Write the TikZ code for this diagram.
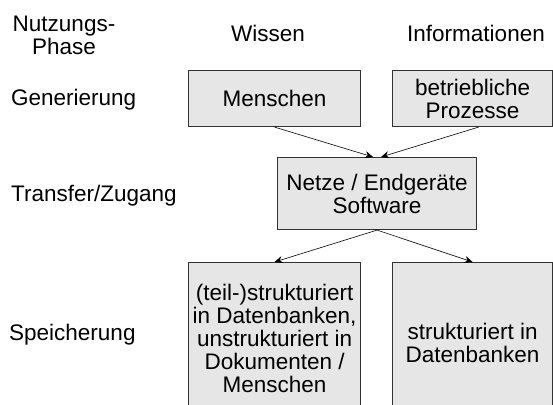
\documentclass[tikz,border=0pt]{standalone}
\usepackage{fontspec}
\setmainfont{Liberation Sans}
\usetikzlibrary{calc,arrows.meta}
\definecolor{boxfill}{RGB}{230,230,230}
\definecolor{boxline}{RGB}{50,50,50}
\begin{document}
\begin{tikzpicture}[x=1pt,y=-1pt,
  every node/.style={font=\fontsize{22.5}{23}\selectfont, inner sep=0pt, align=center},
  box/.style={draw=boxline, line width=1.1pt, fill=boxfill, anchor=north west},
  lbl/.style={anchor=west},
  flow/.style={line width=0.6pt, -{Stealth[length=8pt,width=7pt]}}]
\useasboundingbox (0,0) rectangle (553,404);
\clip (0,0) rectangle (553,404);

% column and row headings
\node (hdr) at (64,35) {Nutzungs-\\Phase};
\node (wis) at (268,33) {Wissen};
\node (inf) at (476,33) {Informationen};
\node[lbl] (gen) at (11,100) {Generierung};
\node[lbl] (tra) at (11,196) {Transfer/Zugang};
\node[lbl] (spe) at (9,335) {Speicherung};

% boxes (the storage boxes run on past the lower edge)
\node[box, minimum width=172pt, minimum height=56pt] (men) at (188,70) {Menschen};
\node[box, minimum width=160pt, minimum height=56pt] (bp) at (392,70) {betriebliche\\Prozesse};
\node[box, minimum width=199pt, minimum height=72pt] (net) at (277,157) {Netze / Endgeräte\\Software};
\node[box, minimum width=172pt, minimum height=152pt] (ls) at (188,262) {(teil-)strukturiert\\in Datenbanken,\\unstrukturiert in\\Dokumenten /\\Menschen};
\node[box, minimum width=160pt, minimum height=160pt] (rs) at (392,262) {strukturiert in\\Datenbanken};

% connectors
\draw[flow] (men.south) -- ($(net.north)+(-4,0)$);
\draw[flow] ($(bp.south)+(6,0)$) -- ($(net.north)+(4,0)$);
\draw[flow] (net.south) -- (ls.north);
\draw[flow] (net.south) -- (rs.north);
\end{tikzpicture}
\end{document}
